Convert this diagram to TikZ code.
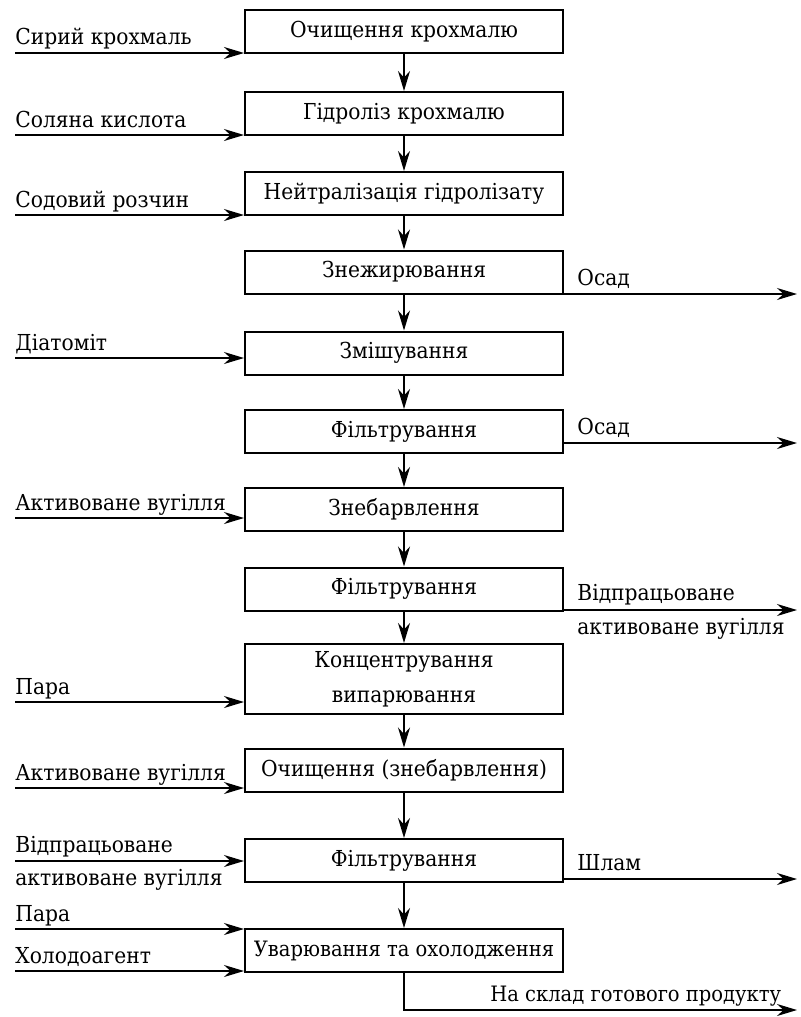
\documentclass[tikz,border=0pt]{standalone}
\usepackage{fontspec}
\setmainfont{DejaVu Serif}[FakeStretch=0.92]
\usetikzlibrary{arrows.meta,positioning}

\begin{document}
\begin{tikzpicture}[
  x=0.5pt, y=-0.5pt,
  font=\fontsize{11}{12}\selectfont,
  proc/.style={draw, line width=1pt, minimum width=159pt, minimum height=21.5pt,
               inner sep=0pt, align=center},
  lbl/.style={anchor=base west, inner sep=0pt},
  >={Stealth[length=10pt, width=6pt]},
  flow/.style={->, line width=0.85pt},
]
\useasboundingbox (0,0) rectangle (800,1017);
% ----- process chain -----
\node[proc] (b1) at (404,31.5) {Очищення крохмалю};
\node[proc] (b2) at (404,113.5) {Гідроліз крохмалю};
\node[proc] (b3) at (404,193.5) {Нейтралізація гідролізату};
\node[proc] (b4) at (404,272) {Знежирювання};
\node[proc] (b5) at (404,353) {Змішування};
\node[proc] (b6) at (404,431.5) {Фільтрування};
\node[proc] (b7) at (404,509.5) {Знебарвлення};
\node[proc] (b8) at (404,589) {Фільтрування};
\node[proc, minimum height=35pt, font=\fontsize{11}{17.5}\selectfont] (b9) at (404,679) {Концентрування\\випарювання};
\node[proc] (b10) at (404,770) {Очищення (знебарвлення)};
\node[proc] (b11) at (404,860.5) {Фільтрування};
\node[proc, font=\fontsize{10.6}{12}\selectfont] (b12) at (404,950.5) {Уварювання та охолодження};
\draw[flow] (b1)--(b2); \draw[flow] (b2)--(b3); \draw[flow] (b3)--(b4);
\draw[flow] (b4)--(b5); \draw[flow] (b5)--(b6); \draw[flow] (b6)--(b7);
\draw[flow] (b7)--(b8); \draw[flow] (b8)--(b9); \draw[flow] (b9)--(b10);
\draw[flow] (b10)--(b11); \draw[flow] (b11)--(b12);
% ----- inputs -----
\coordinate (i1) at (15,53);
\coordinate (i2) at (15,135);
\coordinate (i3) at (15,215);
\coordinate (i5) at (15,358);
\coordinate (i7) at (15,518);
\coordinate (i9) at (15,702);
\coordinate (i10) at (15,788);
\coordinate (i11) at (15,861);
\coordinate (i12a) at (15,929);
\coordinate (i12b) at (15,971);
\node[lbl] (l1) at (15,44) {Сирий крохмаль};
\node[lbl] (l2) at (15,127) {Соляна кислота};
\node[lbl] (l3) at (15,207) {Содовий розчин};
\node[lbl] (l5) at (15,350) {Діатоміт};
\node[lbl] (l7) at (15,510) {Активоване вугілля};
\node[lbl] (l9) at (15,694) {Пара};
\node[lbl] (l10) at (15,780) {Активоване вугілля};
\node[lbl] (l11a) at (15,852) {Відпрацьоване};
\node[lbl] (l11b) at (15,885) {активоване вугілля};
\node[lbl] (l12a) at (15,921) {Пара};
\node[lbl] (l12b) at (15,963) {Холодоагент};
\draw[flow] (i1)--(i1 -| b1.west);
\draw[flow] (i2)--(i2 -| b2.west);
\draw[flow] (i3)--(i3 -| b3.west);
\draw[flow] (i5)--(i5 -| b5.west);
\draw[flow] (i7)--(i7 -| b7.west);
\draw[flow] (i9)--(i9 -| b9.west);
\draw[flow] (i10)--(i10 -| b10.west);
\draw[flow] (i11)--(i11 -| b11.west);
\draw[flow] (i12a)--(i12a -| b12.west);
\draw[flow] (i12b)--(i12b -| b12.west);
% ----- outputs -----
\coordinate (o4) at (797,294);
\coordinate (o6) at (797,443);
\coordinate (o8) at (797,610);
\coordinate (o11) at (797,879);
\coordinate (o12) at (797,1010);
\node[lbl] (r4) at (577,285) {Осад};
\node[lbl] (r6) at (577,434) {Осад};
\node[lbl] (r8a) at (577,600) {Відпрацьоване};
\node[lbl] (r8b) at (577,634) {активоване вугілля};
\node[lbl] (r11) at (577,870) {Шлам};
\node[lbl, font=\fontsize{10.6}{12}\selectfont] (r12) at (490,1001) {На склад готового продукту};
\draw[flow] (o4 -| b4.east)--(o4);
\draw[flow] (o6 -| b6.east)--(o6);
\draw[flow] (o8 -| b8.east)--(o8);
\draw[flow] (o11 -| b11.east)--(o11);
\draw[flow] (b12.south)--(b12.south |- o12)--(o12);
\end{tikzpicture}
\end{document}
